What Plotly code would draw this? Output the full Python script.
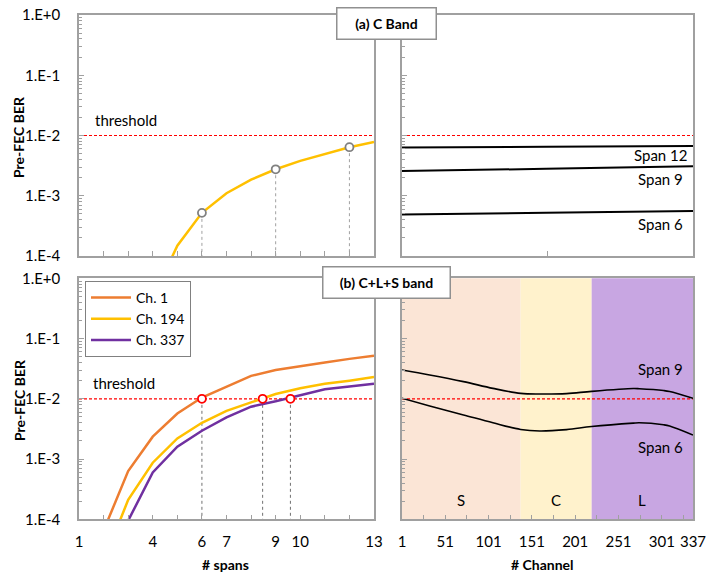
import math
import plotly.graph_objects as go

# ---------------- data ----------------
spans = [1, 2, 3, 4, 5, 6, 7, 8, 9, 10, 11, 12, 13]
# (a) C band, single curve
ber_c_band = [None, None, None, 2.0e-5, 1.48e-4, 5.2e-4, 1.1e-3, 1.85e-3, 2.75e-3, 3.8e-3, 5.0e-3, 6.4e-3, 7.8e-3]
c_marker_spans = [6, 9, 12]
c_marker_ber = [5.2e-4, 2.75e-3, 6.4e-3]

# (b) C+L+S band
ber_ch1 = [None, 6.5e-5, 6.3e-4, 2.35e-3, 5.7e-3, 1.05e-2, 1.6e-2, 2.4e-2, 3.0e-2, 3.5e-2, 4.0e-2, 4.6e-2, 5.2e-2]
ber_ch194 = [None, 2.0e-5, 2.1e-4, 8.7e-4, 2.2e-3, 4.0e-3, 6.3e-3, 8.7e-3, 1.2e-2, 1.5e-2, 1.77e-2, 2.0e-2, 2.3e-2]
ber_ch337 = [None, None, 9.5e-5, 6.0e-4, 1.6e-3, 2.95e-3, 4.9e-3, 7.4e-3, 9.1e-3, 1.14e-2, 1.44e-2, 1.6e-2, 1.77e-2]
reach_spans = [6, 8.47, 9.6]
threshold = 1e-2

# C band per-channel (top right)
c_channels = [1, 50, 100]
c_span12 = [6.3e-3, 6.5e-3, 6.7e-3]
c_span9 = [2.57e-3, 2.8e-3, 3.1e-3]
c_span6 = [4.9e-4, 5.2e-4, 5.6e-4]

# C+L+S per-channel (bottom right)
cls_channels = [1, 33, 72, 106, 138, 160, 191, 220, 268, 275, 303, 310, 337]
cls_span9 = [3.0e-2, 2.49e-2, 1.93e-2, 1.49e-2, 1.23e-2, 1.2e-2, 1.22e-2, 1.33e-2, 1.48e-2, 1.47e-2, 1.37e-2, 1.32e-2, 1.02e-2]
cls_span6 = [1.02e-2, 7.6e-3, 5.4e-3, 4.0e-3, 3.1e-3, 2.92e-3, 3.08e-3, 3.46e-3, 3.95e-3, 4.0e-3, 3.7e-3, 3.53e-3, 2.5e-3]
band_names = ["S", "C", "L"]
band_edges = [1, 138, 220, 337]
band_colors = ["#FBE5D6", "#FFF2CC", "#C8A6E2"]

ytick_vals = [1e-4, 1e-3, 1e-2, 1e-1, 1]
ytick_text = ["1.E-4", "1.E-3", "1.E-2", "1.E-1", "1.E+0"]
xtick_spans = [1, 4, 6, 7, 9, 10, 13]
xtick_channels = [1, 51, 101, 151, 201, 251, 301, 337]

# ---------------- styling ----------------
FONT = "Lato"
FS = 15
GRAY = "#A0A0A0"
ORANGE = "#ED7D31"
YELLOW = "#FFC000"
PURPLE = "#7030A0"
W, H = 715, 572

def px_x(p):
    return p / W

def px_y(p):
    return 1 - p / H

minor_vals = [k * 10 ** e for e in range(-4, 0) for k in range(2, 10)]
TH_DASH = "3px,2px"
V_DASH = "3px,3px"

fig = go.Figure()

# ---- top left ----
fig.add_trace(go.Scatter(x=[1, 13], y=[threshold, threshold], mode="lines",
                         line=dict(color="#FF0000", width=1.2, dash=TH_DASH),
                         xaxis="x", yaxis="y", showlegend=False, hoverinfo="skip"))
for xs, ys in zip(c_marker_spans, c_marker_ber):
    fig.add_trace(go.Scatter(x=[xs, xs], y=[ys, 1e-4], mode="lines",
                             line=dict(color="#A0A0A0", width=1, dash=V_DASH),
                             xaxis="x", yaxis="y", showlegend=False, hoverinfo="skip"))
fig.add_trace(go.Scatter(x=spans, y=ber_c_band, mode="lines",
                         line=dict(color=YELLOW, width=2.5),
                         xaxis="x", yaxis="y", showlegend=False))
fig.add_trace(go.Scatter(x=c_marker_spans, y=c_marker_ber, mode="markers",
                         marker=dict(color="white", size=8, line=dict(color="#808080", width=1.8)),
                         xaxis="x", yaxis="y", showlegend=False))

# ---- top right ----
fig.add_trace(go.Scatter(x=[c_channels[0], c_channels[-1]], y=[threshold, threshold], mode="lines",
                         line=dict(color="#FF0000", width=1.2, dash=TH_DASH),
                         xaxis="x2", yaxis="y2", showlegend=False, hoverinfo="skip"))
for ys in (c_span12, c_span9, c_span6):
    fig.add_trace(go.Scatter(x=c_channels, y=ys, mode="lines", line=dict(color="black", width=2, shape="spline"),
                             xaxis="x2", yaxis="y2", showlegend=False))

# ---- bottom left ----
fig.add_trace(go.Scatter(x=[1, 13], y=[threshold, threshold], mode="lines",
                         line=dict(color="#FF0000", width=1.2, dash=TH_DASH),
                         xaxis="x3", yaxis="y3", showlegend=False, hoverinfo="skip"))
for xs in reach_spans:
    fig.add_trace(go.Scatter(x=[xs, xs], y=[threshold, 1e-4], mode="lines",
                             line=dict(color="#707070", width=1, dash=V_DASH),
                             xaxis="x3", yaxis="y3", showlegend=False, hoverinfo="skip"))
for name, ys, col in (("Ch. 1", ber_ch1, ORANGE), ("Ch. 194", ber_ch194, YELLOW), ("Ch. 337", ber_ch337, PURPLE)):
    fig.add_trace(go.Scatter(x=spans, y=ys, mode="lines", name=name,
                             line=dict(color=col, width=2.5),
                             xaxis="x3", yaxis="y3", showlegend=True))
fig.add_trace(go.Scatter(x=reach_spans, y=[threshold] * len(reach_spans), mode="markers",
                         marker=dict(color="white", size=8, line=dict(color="#FF0000", width=1.8)),
                         xaxis="x3", yaxis="y3", showlegend=False))

# ---- bottom right ----
fig.add_trace(go.Scatter(x=[cls_channels[0], cls_channels[-1]], y=[threshold, threshold], mode="lines",
                         line=dict(color="#FF0000", width=1.2, dash=TH_DASH),
                         xaxis="x4", yaxis="y4", showlegend=False, hoverinfo="skip"))
for ys in (cls_span9, cls_span6):
    fig.add_trace(go.Scatter(x=cls_channels, y=ys, mode="lines", line=dict(color="black", width=1.6, shape="spline", smoothing=1.0),
                             xaxis="x4", yaxis="y4", showlegend=False))

shapes = []
for i, col in enumerate(band_colors):
    shapes.append(dict(type="rect", xref="x4", yref="y4 domain", x0=band_edges[i], x1=band_edges[i + 1],
                       y0=0, y1=1, fillcolor=col, line=dict(width=0), layer="below"))

def txt_font(size=FS):
    return dict(size=size, color="black", family=FONT)

annotations = []
for i, name in enumerate(band_names):
    annotations.append(dict(x=(band_edges[i] + band_edges[i + 1]) / 2, y=-3.68, xref="x4", yref="y4",
                            xanchor="center", yanchor="middle",
                            text=name, showarrow=False, font=txt_font()))

# span labels
for txt, yv in (("Span 12", 4.7e-3), ("Span 9", 1.87e-3), ("Span 6", 3.4e-4)):
    annotations.append(dict(x=0.887, y=math.log10(yv), xref="x2 domain", yref="y2", text=txt,
                            xanchor="center", yanchor="middle", showarrow=False, font=txt_font()))
for txt, yv in (("Span 9", 3.1e-2), ("Span 6", 1.58e-3)):
    annotations.append(dict(x=0.887, y=math.log10(yv), xref="x4 domain", yref="y4", text=txt,
                            xanchor="center", yanchor="middle", showarrow=False, font=txt_font()))

# threshold labels
annotations.append(dict(x=px_x(93), y=px_y(120), xref="paper", yref="paper", text="threshold",
                        xanchor="left", yanchor="middle", showarrow=False, font=txt_font()))
annotations.append(dict(x=px_x(91), y=px_y(383), xref="paper", yref="paper", text="threshold",
                        xanchor="left", yanchor="middle", showarrow=False, font=txt_font()))

# panel boxes
annotations.append(dict(x=px_x(386.5), y=px_y(23), xref="paper", yref="paper", text="<b>(a) C Band</b>",
                        xanchor="center", yanchor="middle",
                        showarrow=False, bgcolor="white", bordercolor="#909090", borderwidth=1.5,
                        width=96, height=28, borderpad=1, font=txt_font(14)))
annotations.append(dict(x=px_x(386.7), y=px_y(282), xref="paper", yref="paper", text="<b>(b) C+L+S band</b>",
                        xanchor="center", yanchor="middle",
                        showarrow=False, bgcolor="white", bordercolor="#909090", borderwidth=1.5,
                        width=124, height=28, borderpad=1, font=txt_font(14)))

# axis titles
for yc in (137, 400):
    annotations.append(dict(x=px_x(19), y=px_y(yc), xref="paper", yref="paper", text="<b>Pre-FEC BER</b>",
                            xanchor="center", yanchor="middle",
                            textangle=-90, showarrow=False, font=txt_font(14)))
annotations.append(dict(x=px_x(226), y=px_y(564), xref="paper", yref="paper", text="<b># spans</b>",
                        xanchor="center", yanchor="middle", showarrow=False, font=txt_font(14)))
annotations.append(dict(x=px_x(542), y=px_y(564), xref="paper", yref="paper", text="<b># Channel</b>",
                        xanchor="center", yanchor="middle", showarrow=False, font=txt_font(14)))

xl = [px_x(79), px_x(374)]
xr = [px_x(402), px_x(693)]
yt = [px_y(256), px_y(15)]
yb = [px_y(519.3), px_y(278.3)]

def yax(domain, labels, anchor):
    d = dict(type="log", range=[-4, 0], domain=domain, anchor=anchor, automargin=False,
             showline=True, linecolor=GRAY, linewidth=1.5, mirror=True,
             showgrid=False, zeroline=False, ticks="inside", ticklen=5, tickcolor=GRAY, tickwidth=1,
             tickvals=ytick_vals, ticktext=ytick_text, showticklabels=labels,
             tickfont=txt_font(),
             minor=dict(ticks="inside", ticklen=3, tickcolor=GRAY, tickvals=minor_vals, showgrid=False))
    if labels:
        d["ticklabelstandoff"] = 14
    return d

base_x = dict(showline=True, linecolor=GRAY, linewidth=1.5, mirror=True, showgrid=False, zeroline=False,
              automargin=False, ticks="inside", ticklen=5, tickcolor=GRAY, tickwidth=1,
              tickfont=txt_font())

fig.update_layout(
    width=W, height=H, margin=dict(l=0, r=0, t=0, b=0, autoexpand=False),
    paper_bgcolor="white", plot_bgcolor="white",
    font=dict(family=FONT, size=14, color="black"),
    xaxis=dict(base_x, domain=xl, anchor="y", range=[1, 13], tickvals=spans, showticklabels=False),
    yaxis=yax(yt, True, "x"),
    xaxis2=dict(base_x, domain=xr, anchor="y2", range=[c_channels[0], c_channels[-1]],
                tickvals=[(c_channels[0] + c_channels[-1]) / 2], showticklabels=False),
    yaxis2=yax(yt, False, "x2"),
    xaxis3=dict(base_x, domain=xl, anchor="y3", range=[1, 13], tickvals=xtick_spans,
                ticktext=[str(v) for v in xtick_spans], ticklabelstandoff=8,
                minor=dict(ticks="inside", ticklen=5, tickcolor=GRAY, tickvals=spans)),
    yaxis3=yax(yb, True, "x3"),
    xaxis4=dict(base_x, domain=xr, anchor="y4", range=[1, 337], tickvals=xtick_channels,
                ticktext=[str(v) for v in xtick_channels], ticklabelstandoff=8,
                minor=dict(ticks="inside", ticklen=5, tickcolor=GRAY, dtick=25, tick0=1)),
    yaxis4=yax(yb, False, "x4"),
    legend=dict(x=px_x(85), y=px_y(281), xanchor="left", yanchor="top", bgcolor="white",
                bordercolor="#808080", borderwidth=1, font=txt_font(14),
                tracegroupgap=0, itemwidth=40),
    shapes=shapes, annotations=annotations,
)

fig.write_html("out.html", config={"displayModeBar": False},
               post_script="document.body.style.margin='0px';")
